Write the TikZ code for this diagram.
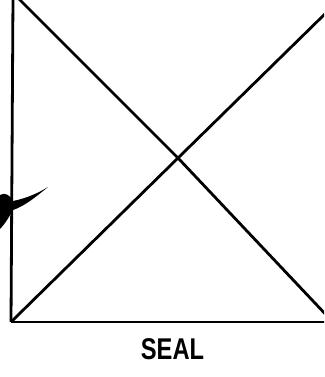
\documentclass[tikz,border=0pt]{standalone}
\usepackage{fontspec}
\setmainfont{Liberation Sans}
\begin{document}
\begin{tikzpicture}[x=1pt,y=1pt,
  edge/.style={line width=2.8pt,black,line cap=butt},
  lbl/.style={font=\fontsize{30}{32}\selectfont\bfseries,inner sep=0pt,xscale=0.79}]
\useasboundingbox (0,0) rectangle (324,377);
\fill[white] (0,0) rectangle (324,377);
\begin{scope}
\clip (0,0) rectangle (324,377);
\coordinate (tl) at (13,380);
\coordinate (bl) at (11,55);
\coordinate (br) at (330,55);
\coordinate (dtop) at (17,380);
\coordinate (cross) at (178,219);
\coordinate (dbr) at (330,58);
\coordinate (dtr) at (330,368);
\draw[edge] (tl) -- (bl);
\draw[edge] (bl) -- (br);
\draw[edge] (dtop) -- (cross) -- (dbr);
\draw[edge] (bl) -- (cross) -- (dtr);
\fill[black] (0,182) .. controls (5,185) and (10,182) .. (13,176)
  .. controls (28,179) and (40,185) .. (48,190)
  .. controls (37,181) and (25,171) .. (13,167)
  .. controls (8,158) and (4,152) .. (0,148) -- cycle;
\end{scope}
\node[lbl] (seal) at (172.5,28) {SEAL};
\end{tikzpicture}
\end{document}
